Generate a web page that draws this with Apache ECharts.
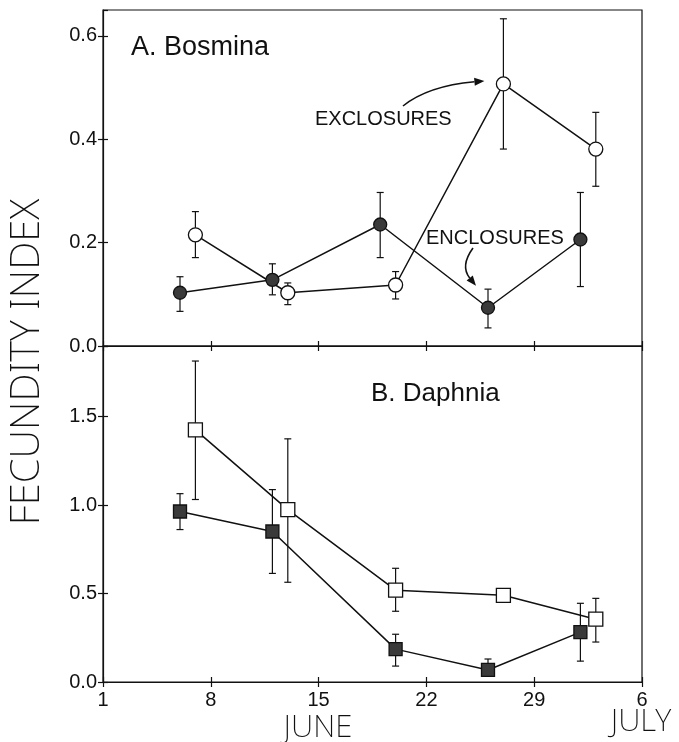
<!DOCTYPE html>
<html>
<head>
<meta charset="utf-8">
<script src="https://cdn.jsdelivr.net/npm/echarts@6/dist/echarts.min.js"></script>
<style>
  html, body { margin: 0; padding: 0; background: #fff; }
  #chart { width: 679px; height: 742px; }
</style>
</head>
<body>
<div id="chart"></div>
<script>
// x ticks: days since June 1 (0..35), labelled by calendar day
const xTickLabels = ['1', '8', '15', '22', '29', '6']
const monthLabels = ['JUNE', 'JULY']

// A. Bosmina (June day numbers)
const bosEncDays = [6, 12, 19, 26, 32]
const bosEnc = [0.103, 0.128, 0.235, 0.074, 0.206]
const bosEncLow = [0.067, 0.099, 0.171, 0.035, 0.115]
const bosEncHigh = [0.134, 0.159, 0.297, 0.11, 0.297]

const bosExcDays = [7, 13, 20, 27, 33]
const bosExc = [0.215, 0.103, 0.118, 0.507, 0.381]
const bosExcLow = [0.171, 0.08, 0.091, 0.381, 0.309]
const bosExcHigh = [0.26, 0.122, 0.144, 0.633, 0.452]

// B. Daphnia
const dapEncDays = [6, 12, 20, 26, 32]
const dapEnc = [0.964, 0.851, 0.186, 0.068, 0.282]
const dapEncLow = [0.862, 0.614, 0.09, 0.04, 0.118]
const dapEncHigh = [1.065, 1.088, 0.27, 0.13, 0.445]

const dapExcDays = [7, 13, 20, 27, 33]
const dapExc = [1.426, 0.975, 0.519, 0.49, 0.355]
const dapExcLow = [1.032, 0.564, 0.40, 0.49, 0.226]
const dapExcHigh = [1.815, 1.375, 0.643, 0.49, 0.473]

const chartInstance = echarts.init(document.getElementById('chart'))

const tickFont = { color: '#111', fontSize: 20, fontFamily: 'Liberation Sans, Arial, sans-serif' }
const thinFont = "'DejaVu Sans ExtraLight', 'Noto Sans', sans-serif"

// points as [daysSinceJune1, value]
function pts (days, vals) {
  return days.map((d, i) => [d - 1, vals[i]])
}
function bars (days, low, high) {
  return days.map((d, i) => [d - 1, low[i], high[i]])
}

// x axis pair per grid: one with outside ticks, one with inside ticks (crossing ticks)
function xAxes (gridIndex, showLabels) {
  const base = {
    type: 'value',
    gridIndex: gridIndex,
    min: 0,
    max: 35,
    interval: 7,
    position: 'bottom',
    splitLine: { show: false }
  }
  return [
    Object.assign({}, base, {
      axisLine: { show: true, lineStyle: { color: '#111', width: 1.2 } },
      axisTick: { show: true, inside: false, length: 5, lineStyle: { color: '#111', width: 1.2 } },
      axisLabel: Object.assign({
        show: showLabels,
        margin: 8,
        formatter: (v) => xTickLabels[Math.round(v / 7)] || ''
      }, tickFont)
    }),
    Object.assign({}, base, {
      axisLine: { show: false },
      axisTick: { show: true, inside: true, length: 5, lineStyle: { color: '#111', width: 1.2 } },
      axisLabel: { show: false }
    })
  ]
}

function yAxes (gridIndex, max, interval) {
  const base = {
    type: 'value',
    gridIndex: gridIndex,
    min: 0,
    max: max,
    interval: interval,
    position: 'left',
    splitLine: { show: false }
  }
  const fmt = (v) => {
    const r = Math.round(v / interval) * interval
    return Math.abs(r - v) < 1e-6 ? v.toFixed(1) : ''
  }
  return [
    Object.assign({}, base, {
      axisLine: { show: true, lineStyle: { color: '#111', width: 1.2 } },
      axisTick: { show: true, inside: false, length: 5, lineStyle: { color: '#111', width: 1.2 } },
      axisLabel: Object.assign({ margin: 6, formatter: fmt, showMaxLabel: false }, tickFont)
    }),
    Object.assign({}, base, {
      axisLine: { show: false },
      axisTick: { show: true, inside: true, length: 5, lineStyle: { color: '#111', width: 1.2 } },
      axisLabel: { show: false }
    })
  ]
}

// error bars with small caps
function errorSeries (data, xi, yi) {
  return {
    type: 'custom',
    xAxisIndex: xi,
    yAxisIndex: yi,
    z: 1,
    silent: true,
    data: data,
    renderItem: (params, api) => {
      const lo = api.coord([api.value(0), api.value(1)])
      const hi = api.coord([api.value(0), api.value(2)])
      const w = 3.5
      const style = { stroke: '#111', lineWidth: 1.2 }
      return {
        type: 'group',
        children: [
          { type: 'line', shape: { x1: lo[0], y1: lo[1], x2: hi[0], y2: hi[1] }, style: style },
          { type: 'line', shape: { x1: lo[0] - w, y1: lo[1], x2: lo[0] + w, y2: lo[1] }, style: style },
          { type: 'line', shape: { x1: hi[0] - w, y1: hi[1], x2: hi[0] + w, y2: hi[1] }, style: style }
        ]
      }
    }
  }
}

function lineSeries (data, xi, yi, symbol, filled, size) {
  return {
    type: 'line',
    xAxisIndex: xi,
    yAxisIndex: yi,
    z: 3,
    data: data,
    symbol: symbol,
    symbolSize: size,
    showAllSymbol: true,
    lineStyle: { color: '#111', width: 1.5 },
    itemStyle: {
      color: filled ? '#3a3a3a' : '#fff',
      borderColor: '#111',
      borderWidth: 1.3
    }
  }
}

const option = {
  animation: false,
  backgroundColor: '#fff',
  grid: [
    { left: 103, right: 37, top: 10, height: 336, show: true, borderColor: '#111', borderWidth: 1.2 },
    { left: 103, right: 37, top: 346, height: 336, show: true, borderColor: '#111', borderWidth: 1.2 }
  ],
  xAxis: [].concat(xAxes(0, false), xAxes(1, true)),
  yAxis: [].concat(yAxes(0, 0.65, 0.2), yAxes(1, 1.9, 0.5)),
  series: [
    errorSeries(bars(bosEncDays, bosEncLow, bosEncHigh), 0, 0),
    errorSeries(bars(bosExcDays, bosExcLow, bosExcHigh), 0, 0),
    lineSeries(pts(bosEncDays, bosEnc), 0, 0, 'circle', true, 13),
    lineSeries(pts(bosExcDays, bosExc), 0, 0, 'circle', false, 14),
    errorSeries(bars(dapEncDays, dapEncLow, dapEncHigh), 2, 2),
    errorSeries(bars(dapExcDays, dapExcLow, dapExcHigh), 2, 2),
    lineSeries(pts(dapEncDays, dapEnc), 2, 2, 'rect', true, 13),
    lineSeries(pts(dapExcDays, dapExc), 2, 2, 'rect', false, 14)
  ]
}
chartInstance.setOption(option)

// annotations: text and curved arrows, tips anchored to data points
function arrow (sx, sy, cx, cy, ex, ey) {
  const ang = Math.atan2(ey - cy, ex - cx)
  const L = 10
  const W = 4
  const bx = ex - L * Math.cos(ang)
  const by = ey - L * Math.sin(ang)
  const nx = -Math.sin(ang) * W
  const ny = Math.cos(ang) * W
  return [
    { type: 'bezierCurve', shape: { x1: sx, y1: sy, cpx1: cx, cpy1: cy, x2: bx, y2: by }, style: { stroke: '#111', lineWidth: 1.6, fill: null } },
    { type: 'polygon', shape: { points: [[ex, ey], [bx + nx, by + ny], [bx - nx, by - ny]] }, style: { fill: '#111' } }
  ]
}

const excTip = chartInstance.convertToPixel({ xAxisIndex: 0, yAxisIndex: 0 }, [bosExcDays[3] - 1, bosExc[3]])
const encTip = chartInstance.convertToPixel({ xAxisIndex: 0, yAxisIndex: 0 }, [bosEncDays[3] - 1, bosEnc[3]])

const textStyle = (size, family, weight) => ({ fill: '#111', fontSize: size, fontFamily: family, fontWeight: weight })

chartInstance.setOption({
  graphic: [
    { type: 'text', left: 131, top: 34, style: Object.assign({ text: 'A. Bosmina' }, textStyle(27, 'Liberation Sans, sans-serif', 'normal')) },
    { type: 'text', left: 371, top: 381, style: Object.assign({ text: 'B. Daphnia' }, textStyle(26, 'Liberation Sans, sans-serif', 'normal')) },
    { type: 'text', left: 315, top: 109, style: Object.assign({ text: 'EXCLOSURES' }, textStyle(20, 'Liberation Sans, sans-serif', 'normal')) },
    { type: 'text', left: 426, top: 228, style: Object.assign({ text: 'ENCLOSURES' }, textStyle(20, 'Liberation Sans, sans-serif', 'normal')) },
    {
      type: 'text',
      x: 28,
      y: 362,
      rotation: Math.PI / 2,
      style: Object.assign({ text: 'FECUNDITY INDEX', align: 'center', verticalAlign: 'middle' }, textStyle(40, thinFont, 200))
    },
    { type: 'text', x: 318, y: 728, style: Object.assign({ text: monthLabels[0], align: 'center', verticalAlign: 'middle' }, textStyle(31, thinFont, 200)) },
    { type: 'text', x: 641, y: 722, style: Object.assign({ text: monthLabels[1], align: 'center', verticalAlign: 'middle' }, textStyle(31, thinFont, 200)) },
    {
      type: 'group',
      silent: true,
      children: arrow(403, 106, 428, 86, excTip[0] - 19, excTip[1] - 3)
        .concat(arrow(473, 248, 460, 266, encTip[0] - 12, encTip[1] - 22))
    }
  ]
})
</script>
</body>
</html>
